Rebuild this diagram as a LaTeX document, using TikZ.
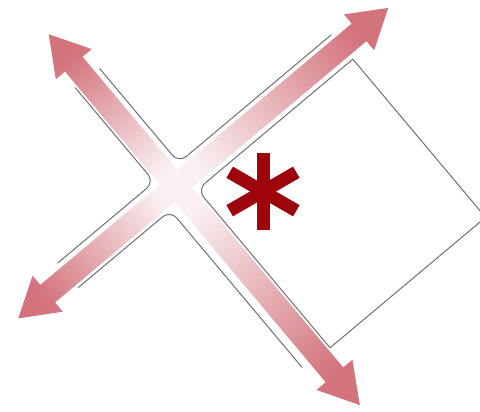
\documentclass[tikz,border=0pt]{standalone}
\definecolor{armpale}{RGB}{250,240,241}
\definecolor{armtip}{RGB}{211,116,125}
\definecolor{edgegray}{RGB}{112,112,112}
\definecolor{starred}{RGB}{158,4,12}
\begin{document}
\begin{tikzpicture}[x=1pt,y=1pt,
  armshade/.style={top color=armtip,bottom color=armpale,draw=none},
  edgeline/.style={draw=edgegray,line width=1pt,line cap=round,line join=round},
  starbar/.style={draw=starred,line width=13pt}]
\useasboundingbox (0,0) rectangle (480,412);
\clip (0,0) rectangle (480,412);
\begin{scope}[shift={(176,226)},rotate=40]
  \foreach \ang/\base/\tip in {0/239/277, 90/159/198, 180/167.5/206, 270/246.5/286}{
    \pgfmathsetmacro{\shang}{\ang-50}
    \begin{scope}[rotate=\ang]
      \shade[armshade,shading angle=\shang] (0,-11.5) -- (\base,-11.5) -- (\base,-23.5) -- (\tip,0) -- (\base,23.5) -- (\base,11.5) -- (0,11.5) -- cycle;
    \end{scope}}
  % outline lines
  \draw[edgeline,rounded corners=10pt] (17,139) -- (17,16) -- (216,16);
  \draw[edgeline,rounded corners=10pt] (-14,140) -- (-14,17) -- (-140,17);
  \draw[edgeline,rounded corners=10pt] (-140,-15) -- (-20,-15) -- (-20,-220);
  \draw[edgeline,rounded corners=10pt] (14,-223) -- (14,-16.5) -- (217,-16.5);
  \draw[edgeline] (217,-16.5) -- (217,-223) -- (14,-223);
\end{scope}
\coordinate (star) at (263,220.5);
\draw[starbar] ([shift={(90:38.5)}]star) -- ([shift={(270:38.5)}]star);
\draw[starbar] ([shift={(30:38.5)}]star) -- ([shift={(210:38.5)}]star);
\draw[starbar] ([shift={(150:38.5)}]star) -- ([shift={(330:38.5)}]star);
\end{tikzpicture}
\end{document}
